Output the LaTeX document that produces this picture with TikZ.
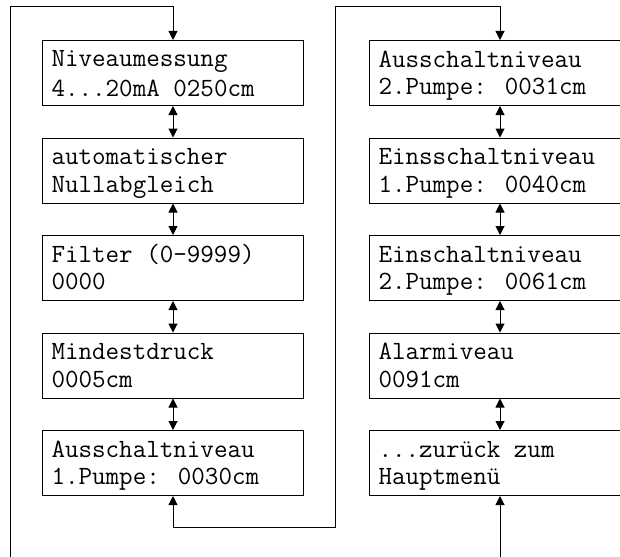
\documentclass[tikz,border=0pt]{standalone}
\usepackage{fontspec}
\usetikzlibrary{arrows.meta}
\newcommand\zs{\spaceskip=0pt\xspaceskip=0pt\rule[-2.9pt]{0pt}{13.85pt}}
\tikzset{
  menubox/.style={draw, line width=0.5pt, anchor=north west,
    text width=121.5pt, inner xsep=4.5pt, inner ysep=0pt,
    minimum height=32.5pt, align=left,
    font=\fontsize{13.15}{13.85}\selectfont\ttfamily},
  pfeil/.style={-{Triangle[length=4.5pt,width=4.5pt]}, line width=0.5pt},
  doppel/.style={{Triangle[length=4.5pt,width=4.5pt]}-{Triangle[length=4.5pt,width=4.5pt]}, line width=0.5pt}
}
\begin{document}
\begin{tikzpicture}
[x=0.5pt,y=-0.5pt]
\useasboundingbox (0,0) rectangle (620,556);
\clip (0,0) rectangle (620,556);
\node [menubox] (niveau) at (42,40) {\zs Niveaumessung\\\zs 4...20mA 0250cm};
\node [menubox] (null) at (42,137.5) {\zs automatischer\\\zs Nullabgleich};
\node [menubox] (filter) at (42,235) {\zs Filter (0-9999)\\\zs 0000};
\node [menubox] (druck) at (42,332.5) {\zs Mindestdruck\\\zs 0005cm};
\node [menubox] (aus1) at (42,430) {\zs Ausschaltniveau\\\zs 1.Pumpe: 0030cm};
\node [menubox] (aus2) at (369,40) {\zs Ausschaltniveau\\\zs 2.Pumpe: 0031cm};
\node [menubox] (ein1) at (369,137.5) {\zs Einsschaltniveau\\\zs 1.Pumpe: 0040cm};
\node [menubox] (ein2) at (369,235) {\zs Einschaltniveau\\\zs 2.Pumpe: 0061cm};
\node [menubox] (alarm) at (369,332.5) {\zs Alarmiveau\\\zs 0091cm};
\node [menubox] (zurueck) at (369,430) {\zs ...zurück zum\\\zs Hauptmenü};
\coordinate (linksunten) at (10,560);
\coordinate (linksoben) at (10,7);
\coordinate (mitteoben) at (335,7);
\coordinate (mitteunten) at (335,527);
\coordinate (rechtsunten) at (498.7,560);
\draw [doppel] (niveau.south) -- (null.north);
\draw [doppel] (null.south) -- (filter.north);
\draw [doppel] (filter.south) -- (druck.north);
\draw [doppel] (druck.south) -- (aus1.north);
\draw [doppel] (aus2.south) -- (ein1.north);
\draw [doppel] (ein1.south) -- (ein2.north);
\draw [doppel] (ein2.south) -- (alarm.north);
\draw [doppel] (alarm.south) -- (zurueck.north);
\draw [pfeil] (linksunten) -- (linksoben) -- (linksoben -| niveau.north) -- (niveau.north);
\draw [doppel] (aus1.south) -- (aus1.south |- mitteunten) -- (mitteunten) -- (mitteoben) -- (mitteoben -| aus2.north) -- (aus2.north);
\draw [pfeil] (zurueck.south |- rechtsunten) -- (zurueck.south);
\end{tikzpicture}
\end{document}
